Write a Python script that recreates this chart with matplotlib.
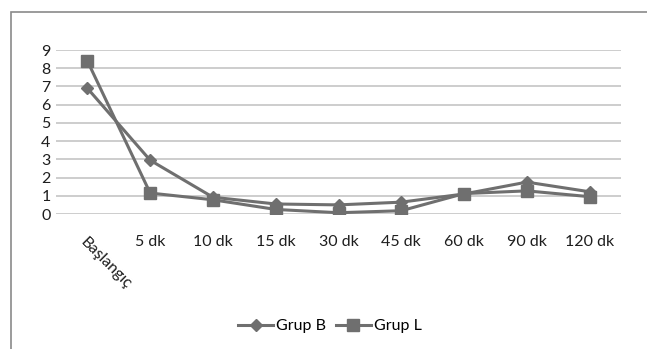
import matplotlib.pyplot as plt
from matplotlib.patches import Rectangle

categories = ['Başlangıç', '5 dk', '10 dk', '15 dk', '30 dk', '45 dk', '60 dk', '90 dk', '120 dk']
grup_b = [6.9, 2.95, 0.92, 0.55, 0.5, 0.65, 1.1, 1.75, 1.22]
grup_l = [8.4, 1.15, 0.78, 0.25, 0.07, 0.18, 1.12, 1.27, 0.95]
yticks = list(range(0, 10))

plt.rcParams['font.family'] = ['Lato', 'DejaVu Sans']
line_col = '#6f6f6f'

fig = plt.figure(figsize=(6.47, 3.49), dpi=100)
fig.patches.append(Rectangle((11 / 647, -0.1), 2, 1 - 12 / 349 + 0.1, transform=fig.transFigure,
                             fill=False, edgecolor='#8a8a8a', linewidth=1.2))

ax = fig.add_axes([56 / 647, 1 - 214 / 349, 565 / 647, 164 / 349])
x = list(range(len(categories)))
ax.plot(x, grup_b, color=line_col, linewidth=2.2, marker='D', markersize=6, label='Grup B')
ax.plot(x, grup_l, color=line_col, linewidth=2.2, marker='s', markersize=9, label='Grup L')

ax.set_xlim(-0.5, len(categories) - 0.5)
ax.set_ylim(0, 9)
ax.set_yticks(yticks)
ax.set_yticklabels([str(v) for v in yticks], fontsize=11.5, color='#1e1e1e')
ax.yaxis.grid(True, color='#c9c9c9', linewidth=1.3)
ax.set_axisbelow(True)
ax.tick_params(length=0, pad=4)
for s in ax.spines.values():
    s.set_visible(False)

ax.set_xticks(x)
ax.set_xticklabels(categories, fontsize=11.5, color='#1e1e1e')
ax.tick_params(axis='x', pad=15)
lab0 = ax.get_xticklabels()[0]
lab0.set_rotation(-45)
lab0.set_ha('left')
lab0.set_va('top')
lab0.set_rotation_mode('anchor')
lab0.set_x(-0.25)

fig.legend(loc='center', bbox_to_anchor=(330 / 647, 1 - 326 / 349), ncol=2, frameon=False,
           fontsize=11.5, handlelength=2.2, handletextpad=0.2, columnspacing=0.6)

fig.savefig('out.png', dpi=100)
